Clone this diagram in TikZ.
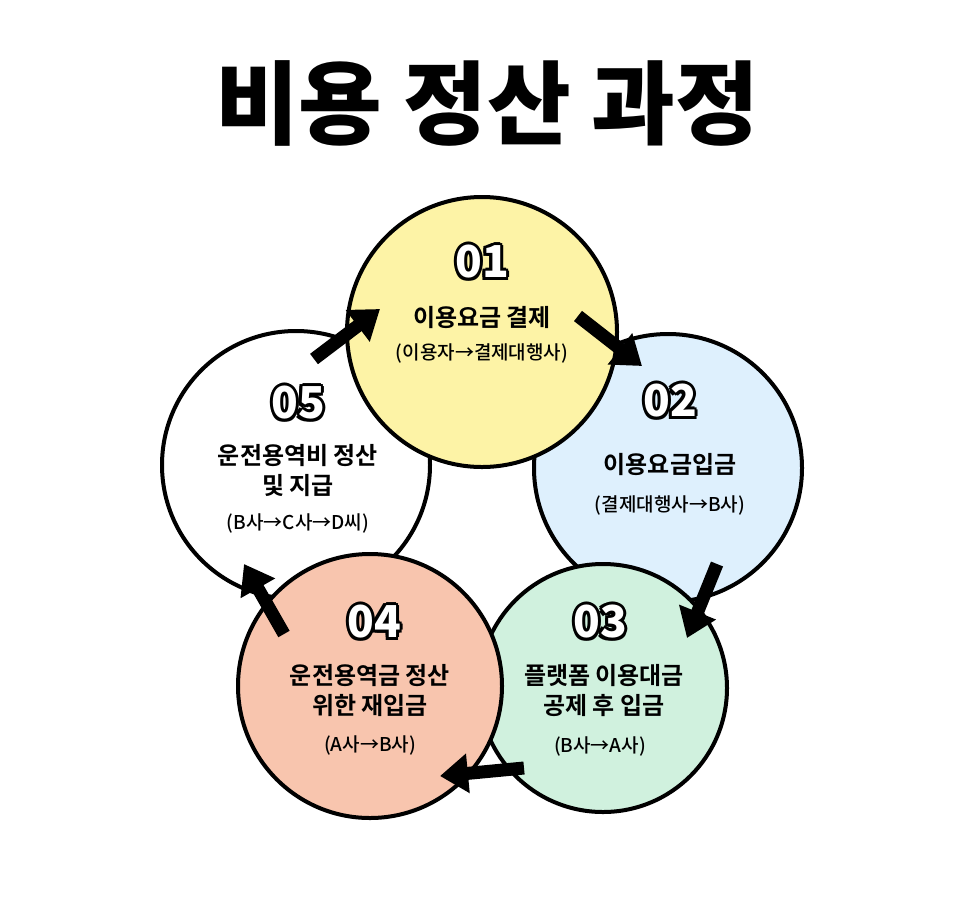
\documentclass[tikz,border=0pt]{standalone}
\usepackage{fontspec}
\setmainfont{Noto Sans CJK KR Medium}
\newfontfamily\blk{Noto Sans CJK KR Black}
\newfontfamily\bld{Noto Sans CJK KR Bold}
\usetikzlibrary{arrows.meta}
\newcommand{\outl}[3]{%
 \foreach \dx/\dy in {-3/0,3/0,0/-3,0/3,-2.1/-2.1,2.1/2.1,-2.1/2.1,2.1/-2.1}
  {\node[font=\blk\fontsize{44}{44}\selectfont,text=black] at ([shift={(\dx,\dy)}]#1) {#3};}
 \node[font=\blk\fontsize{44}{44}\selectfont,text=white] (#2) at (#1) {#3};}
\begin{document}
\begin{tikzpicture}[x=1pt,y=-1pt,
  circ/.style={draw=black,line width=4pt},
  ttl/.style={font=\bld\fontsize{24}{30}\selectfont,align=center},
  sub/.style={font=\fontsize{19}{22}\selectfont},
  arr/.style={line width=13pt,-{Triangle[width=38pt,length=28pt]}}]
\useasboundingbox (0,0) rectangle (977,906);
\fill[white] (0,0) rectangle (977,906);
\node[font=\blk\fontsize{91}{91}\selectfont] (title) at (487,103) {비용 정산 과정};
\fill[white,circ] (296,465) circle (134);
\coordinate (c5) at (296,465);
\fill[fill={rgb,255:red,222;green,240;blue,253},circ] (668,468) circle (134);
\coordinate (c2) at (668,468);
\fill[fill={rgb,255:red,208;green,241;blue,222},circ] (603,688) circle (124);
\coordinate (c3) at (603,688);
\fill[fill={rgb,255:red,248;green,197;blue,174},circ] (370,686) circle (132);
\coordinate (c4) at (370,686);
\fill[fill={rgb,255:red,253;green,243;blue,166},circ] (482,332) circle (135);
\coordinate (c1) at (482,332);
% texts
\outl{482,262}{n1}{01}
\node[ttl] (t1) at (482,318) {이용요금 결제};
\node[sub] (s1) at (482,353) {(이용자→결제대행사)};
\outl{670,401}{n2}{02}
\node[ttl] (t2) at (670,465) {이용요금입금};
\node[sub] (s2) at (670,505) {(결제대행사→B사)};
\outl{600,622}{n3}{03}
\node[ttl] (t3) at (604,690) {플랫폼 이용대금\\공제 후 입금};
\node[sub] (s3) at (600,746) {(B사→A사)};
\outl{374,622}{n4}{04}
\node[ttl] (t4) at (370,690) {운전용역금 정산\\위한 재입금};
\node[sub] (s4) at (370,745) {(A사→B사)};
\outl{298,403}{n5}{05}
\node[ttl] (t5) at (298,470) {운전용역비 정산\\및 지급};
\node[sub] (s5) at (298,523) {(B사→C사→D씨)};
% arrows
\coordinate (a5s) at (314,359); \coordinate (a5e) at (380,309);
\coordinate (a1s) at (578,316); \coordinate (a1e) at (642,366);
\coordinate (a2s) at (717,564); \coordinate (a2e) at (687,638);
\coordinate (a3s) at (524,768); \coordinate (a3e) at (440,776);
\coordinate (a4s) at (284,634); \coordinate (a4e) at (244,564);
\foreach \s/\e in {a5s/a5e,a1s/a1e,a2s/a2e,a3s/a3e,a4s/a4e}
  \draw[arr] (\s) -- (\e);
\end{tikzpicture}
\end{document}
